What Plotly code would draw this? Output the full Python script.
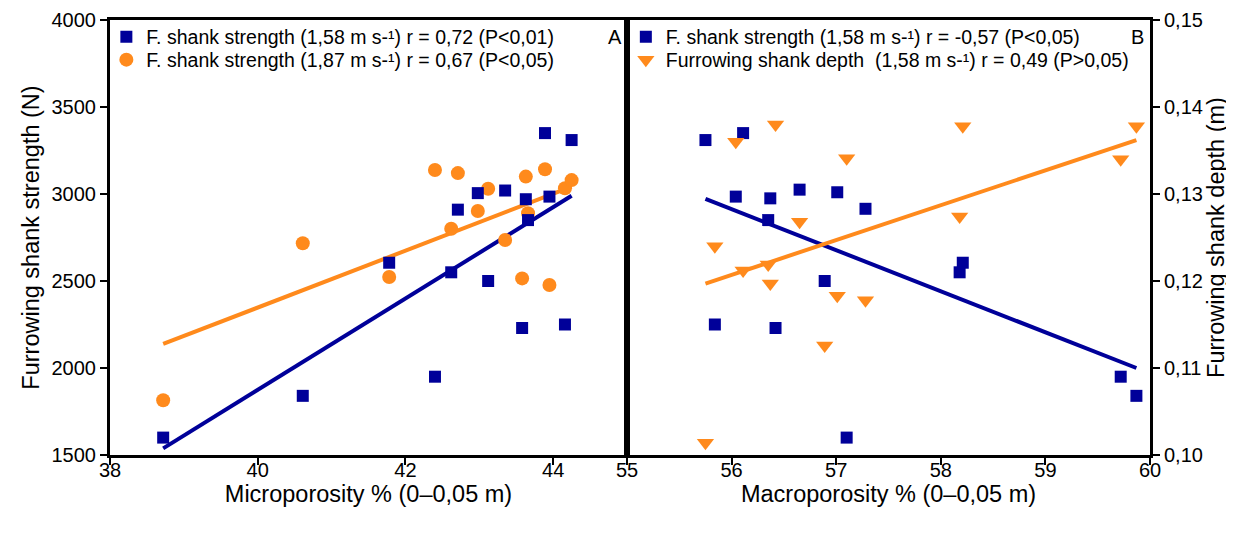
import plotly.graph_objects as go

# ---------------- Panel A : Microporosity ----------------
micro_x = [38.72, 40.61, 41.78, 42.40, 42.62, 42.71, 42.98, 43.12, 43.35, 43.58, 43.63, 43.66, 43.89, 43.95, 44.16, 44.25]
strength_158_a = [1600, 1840, 2605, 1950, 2550, 2910, 3005, 2500, 3020, 2230, 2970, 2850, 3350, 2985, 2250, 3310]
strength_187_a = [1815, 2717, 2523, 3138, 2800, 3120, 2902, 3030, 2736, 2515, 3100, 2890, 3142, 2477, 3033, 3080]

fit_a_x = [38.72, 44.25]
fit_a_158 = [1538, 2990]
fit_a_187 = [2138, 3042]

# ---------------- Panel B : Macroporosity ----------------
macro_x = [55.75, 55.84, 56.04, 56.11, 56.35, 56.37, 56.42, 56.65, 56.89, 57.01, 57.10, 57.28, 58.18, 58.21, 59.72, 59.87]
strength_158_b = [3310, 2250, 2985, 3350, 2850, 2975, 2230, 3025, 2500, 3010, 1600, 2915, 2550, 2605, 1950, 1840]
depth_158_b = [0.1014, 0.1240, 0.1360, 0.1212, 0.1219, 0.1197, 0.1380, 0.1268, 0.1126, 0.1183, 0.1341, 0.1178, 0.1274, 0.1378, 0.1340, 0.1378]

fit_b_x = [55.75, 59.87]
fit_b_strength = [2972, 2000]
fit_b_depth = [0.1197, 0.1362]

# ---------------- Axis ticks / labels ----------------
x_a_ticks = [38, 40, 42, 44]
x_b_ticks = [55, 56, 57, 58, 59, 60]
y_ticks = [1500, 2000, 2500, 3000, 3500, 4000]
y2_ticks = [0.10, 0.11, 0.12, 0.13, 0.14, 0.15]
y2_labels = ["0,10", "0,11", "0,12", "0,13", "0,14", "0,15"]

legend_a1 = "F. shank strength (1,58 m s-¹) r = 0,72 (P<0,01)"
legend_a2 = "F. shank strength (1,87 m s-¹) r = 0,67 (P<0,05)"
legend_b1 = "F. shank strength (1,58 m s-¹) r = -0,57 (P<0,05)"
legend_b2 = "Furrowing shank depth\u00a0\u00a0(1,58 m s-¹) r = 0,49 (P>0,05)"

BLUE = "#000099"
ORANGE = "#FF8A1C"
FONT = "Liberation Sans, Arial, sans-serif"

fig = go.Figure()

# Panel A
fig.add_trace(go.Scatter(x=fit_a_x, y=fit_a_158, mode="lines", line=dict(color=BLUE, width=4),
                         xaxis="x", yaxis="y", showlegend=False, hoverinfo="skip"))
fig.add_trace(go.Scatter(x=fit_a_x, y=fit_a_187, mode="lines", line=dict(color=ORANGE, width=4),
                         xaxis="x", yaxis="y", showlegend=False, hoverinfo="skip"))
fig.add_trace(go.Scatter(x=micro_x, y=strength_187_a, mode="markers",
                         marker=dict(symbol="circle", size=14, color=ORANGE),
                         name=legend_a2, xaxis="x", yaxis="y", legend="legend3"))
fig.add_trace(go.Scatter(x=micro_x, y=strength_158_a, mode="markers",
                         marker=dict(symbol="square", size=12, color=BLUE),
                         name=legend_a1, xaxis="x", yaxis="y", legend="legend"))

# Panel B
fig.add_trace(go.Scatter(x=fit_b_x, y=fit_b_strength, mode="lines", line=dict(color=BLUE, width=4),
                         xaxis="x2", yaxis="y", showlegend=False, hoverinfo="skip"))
fig.add_trace(go.Scatter(x=fit_b_x, y=fit_b_depth, mode="lines", line=dict(color=ORANGE, width=4),
                         xaxis="x2", yaxis="y2", showlegend=False, hoverinfo="skip"))
fig.add_trace(go.Scatter(x=macro_x, y=strength_158_b, mode="markers",
                         marker=dict(symbol="square", size=12, color=BLUE),
                         name=legend_b1, xaxis="x2", yaxis="y", legend="legend2"))
fig.add_trace(go.Scatter(x=macro_x, y=depth_158_b, mode="markers",
                         marker=dict(symbol="triangle-down", size=15, color=ORANGE),
                         name=legend_b2, xaxis="x2", yaxis="y2", legend="legend4"))

axis_common = dict(showline=True, linewidth=3, linecolor="black", mirror=True,
                   ticks="outside", ticklen=7, tickwidth=2, tickcolor="black",
                   showgrid=False, zeroline=False, automargin=False,
                   tickfont=dict(family=FONT, size=20, color="black"))

split = (627 - 110) / 1040
TITLE = dict(family=FONT, size=23.5, color="black")
LEGFONT = dict(family=FONT, size=19.5, color="black")


def leg(x, y):
    return dict(x=x, y=y, xanchor="left", yanchor="middle", bgcolor="rgba(0,0,0,0)",
                font=LEGFONT, borderwidth=0)


row1 = 1 - (37 - 20) / 435
row2 = 1 - (60 - 20) / 435

fig.update_layout(
    width=1226, height=527,
    margin=dict(l=102, r=84, t=12, b=80, autoexpand=False),
    paper_bgcolor="white", plot_bgcolor="white",
    font=dict(family=FONT, color="black"),
    xaxis=dict(domain=[0, split], range=[38, 45], tickvals=x_a_ticks, anchor="y",
               ticklabelstandoff=-12,
               title=dict(text="Microporosity % (0–0,05 m)", font=TITLE, standoff=4),
               **axis_common),
    xaxis2=dict(domain=[split, 1], range=[55, 60], tickvals=x_b_ticks, anchor="y",
                ticklabelstandoff=-12,
                title=dict(text="Macroporosity % (0–0,05 m)", font=TITLE, standoff=4),
                **axis_common),
    yaxis=dict(range=[1500, 4000], tickvals=y_ticks, anchor="x",
               title=dict(text="Furrowing shank strength (N)", font=TITLE, standoff=6),
               **axis_common),
    yaxis2=dict(range=[0.10, 0.15], tickvals=y2_ticks, ticktext=y2_labels, anchor="x2",
                overlaying="y", side="right",
                title=dict(text="Furrowing shank depth (m)", font=TITLE, standoff=2),
                **axis_common),
    legend=leg(-0.0035, row1),
    legend3=leg(-0.0035, row2),
    legend2=leg(0.496, row1),
    legend4=leg(0.496, row2),
    annotations=[
        dict(text="A", x=(615 - 110) / 1040, y=row1, xref="paper", yref="paper",
             xanchor="center", yanchor="middle",
             showarrow=False, font=dict(family=FONT, size=20, color="black")),
        dict(text="B", x=(1137 - 110) / 1040, y=row1, xref="paper", yref="paper",
             xanchor="center", yanchor="middle",
             showarrow=False, font=dict(family=FONT, size=20, color="black")),
    ],
)

fig.write_html("out.html")
